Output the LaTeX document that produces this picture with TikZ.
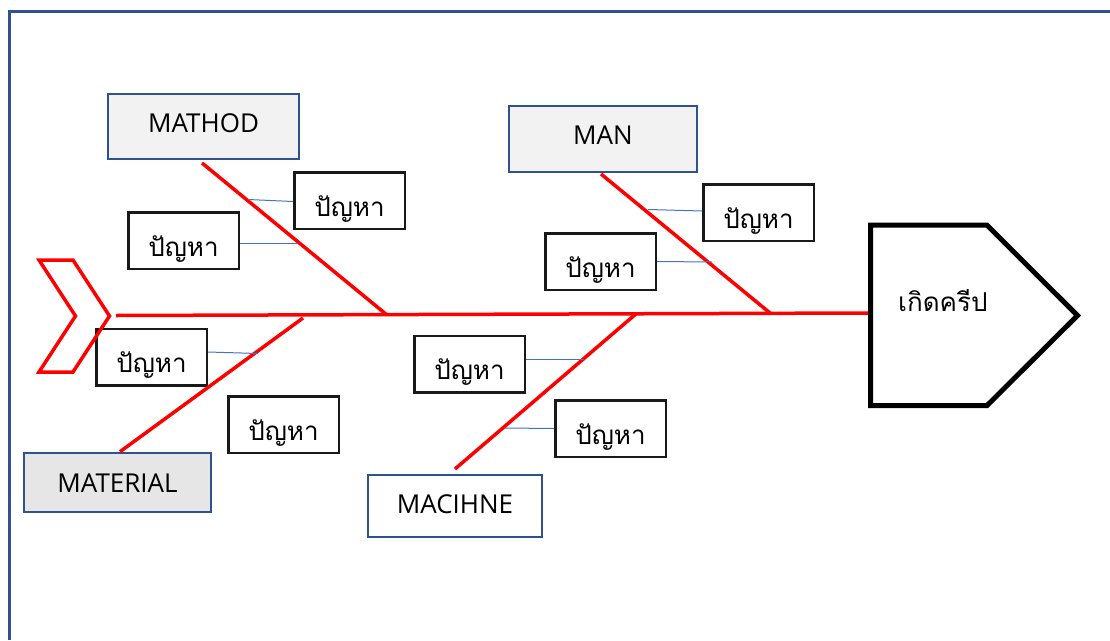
\documentclass[tikz,border=0pt]{standalone}
\usepackage{fontspec}
\setmainfont{Open Sans}
\newfontfamily\thaifont[Script=Thai]{Loma}
\usetikzlibrary{calc}

\definecolor{frameblue}{HTML}{2F528F}
\definecolor{linkblue}{HTML}{4472C4}
\definecolor{boneRed}{HTML}{FF0000}
\definecolor{catgrayA}{HTML}{F2F2F2}
\definecolor{catgrayB}{HTML}{E7E6E6}

\tikzset{
  cat/.style={draw=frameblue, line width=2pt, inner sep=0pt,
    font=\fontsize{26}{31}\selectfont, text depth=0pt},
  prob/.style={draw=black!90, line width=2.5pt, inner sep=0pt,
    minimum width=110.5pt, minimum height=56.5pt,
    font=\thaifont\fontsize{26}{30}\selectfont, text height=31pt, text depth=0pt},
  bone/.style={draw=boneRed, line width=3.5pt},
  link/.style={draw=linkblue, line width=1pt},
}

\begin{document}
\begin{tikzpicture}[x=1pt, y=-1pt]
\useasboundingbox (0,0) rectangle (1110,640);

% outer frame (top and left edges)
\draw[frameblue, line width=3pt] (9.5,640) -- (9.5,11.5) -- (1110,11.5);

% category boxes
\node[cat, fill=catgrayA, minimum width=191pt, minimum height=65pt, text height=12.4pt]
  (mathod) at (203.5,126.5) {MATHOD};
\node[cat, fill=catgrayA, minimum width=188pt, minimum height=66pt, text height=10.6pt]
  (man) at (603,139) {MAN};
\node[cat, fill=catgrayB, minimum width=187pt, minimum height=59pt, text height=19.6pt]
  (material) at (117.5,482.5) {MATERIAL};
\node[cat, fill=white, minimum width=174pt, minimum height=62pt, text height=14.6pt]
  (machine) at (455,506) {MACIHNE};

% problem boxes
\node[prob] (pA) at (349.5,200.5) {ปัญหา};
\node[prob] (pB) at (183.5,240.5) {ปัญหา};
\node[prob] (pC) at (758.5,212.5) {ปัญหา};
\node[prob] (pD) at (600.5,261.5) {ปัญหา};
\node[prob] (pE) at (151.5,357) {ปัญหา};
\node[prob] (pF) at (283.5,424.5) {ปัญหา};
\node[prob] (pG) at (469.5,364) {ปัญหา};
\node[prob] (pH) at (610.5,428.5) {ปัญหา};

% head of the fish
\draw[black, line width=5pt, line join=miter]
  (870.5,225.2) -- (987,225.2) -- (1077.5,315.5) -- (987,405.5) -- (870.5,405.5) -- cycle;
\node[anchor=base west, inner sep=0pt, font=\thaifont\fontsize{26}{30}\selectfont]
  (effect) at (898,311.7) {เกิดครีป};
\coordinate (headin) at (868,313);

% tail of the fish
\draw[boneRed, line width=3.5pt, line join=miter]
  (39,260) -- (73,260) -- (109.5,316) -- (73,372) -- (39,372) -- (75.5,316) -- cycle;
\coordinate (tail) at (116,315.5);

% joints on the spine
\coordinate (jMathod) at (387,315);
\coordinate (jMan) at (770,313);
\coordinate (jMaterial) at (303,318);
\coordinate (jMachine) at (637,313);

% spine and bones
\draw[bone] (tail) -- (headin);
\draw[bone] ([yshift=-3pt]mathod.south -| 202,0) -- (jMathod);
\draw[bone] ([yshift=-1pt]man.south -| 601,0) -- (jMan);
\draw[bone] ([yshift=0.3pt]material.north -| 120,0) -- (jMaterial);
\draw[bone] ([yshift=5pt]machine.north) -- (jMachine);

% points on the bones where the problems attach
\coordinate (tA) at (248,199.5);
\coordinate (tB) at (297,243.5);
\coordinate (tC) at (648,209.5);
\coordinate (tD) at (712,262);
\coordinate (tE) at (258,353.5);
\coordinate (tG) at (584,359.5);
\coordinate (tH) at (505,428);

% problem links
\draw[link] (tA) -- ([yshift=-1pt]pA.west);
\draw[link] ([yshift=-3pt]pB.east) -- (tB);
\draw[link] (tC) -- ([yshift=1.5pt]pC.west);
\draw[link] (pD.east) -- (tD);
\draw[link] ([yshift=5pt]pE.east) -- (tE);
\draw[link] ([yshift=4.5pt]pG.east) -- (tG);
\draw[link] (tH) -- (pH.west);
\end{tikzpicture}
\end{document}
